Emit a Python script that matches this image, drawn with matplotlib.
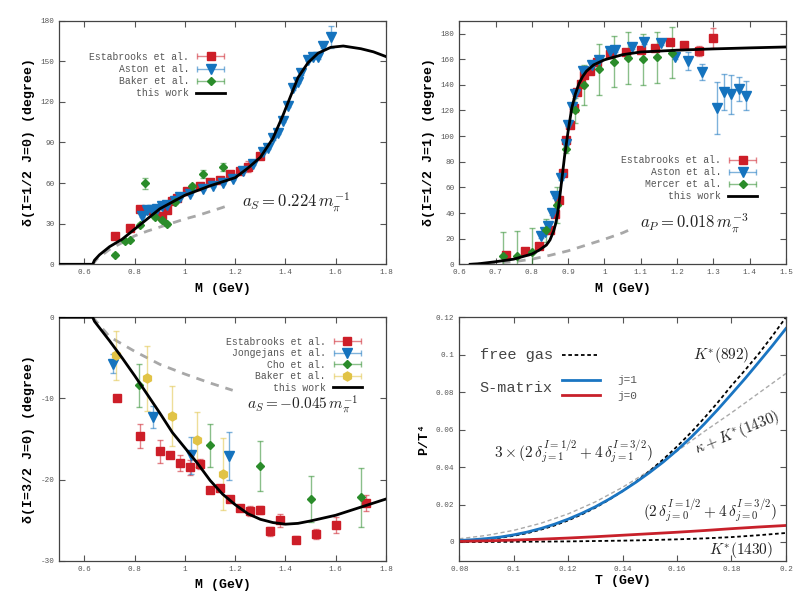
import numpy as np
import matplotlib
matplotlib.use("Agg")
import matplotlib.pyplot as plt
from matplotlib.colors import to_rgba
from matplotlib.container import ErrorbarContainer
from matplotlib.legend_handler import HandlerErrorbar

plt.rcParams['font.family'] = ['Liberation Mono', 'DejaVu Sans Mono']
plt.rcParams['mathtext.fontset'] = 'cm'

RED, BLUE, GREEN, YELLOW = '#cd1e28', '#1573be', '#2a8c2a', '#e1c346'

# ---------------- panel 1: I=1/2 J=0 ----------------
p1_est_x = [0.72, 0.78, 0.82, 0.85, 0.88, 0.91, 0.93, 0.95, 0.97, 1.01, 1.06, 1.10, 1.14, 1.18, 1.22, 1.25, 1.30]
p1_est_y = [21, 27, 41, 40, 39, 36, 40, 47, 49, 54, 58, 61, 62, 67, 69, 72, 80]
p1_est_e = [1, 1, 1.5, 1.5, 1.5, 1.5, 1.5, 1.5, 1.5, 1.5, 1.5, 1.5, 1.5, 1.5, 2, 4, 2]
p1_ast_x = [0.83, 0.85, 0.87, 0.89, 0.91, 0.93, 0.96, 0.98, 1.02, 1.07, 1.11, 1.15, 1.19, 1.23, 1.27,
            1.31, 1.33, 1.35, 1.37, 1.39, 1.41, 1.43, 1.45, 1.46, 1.49, 1.51, 1.53, 1.55, 1.58]
p1_ast_y = [36, 40, 40, 41, 43, 44, 47, 50, 52, 56, 58, 60, 63, 69, 74,
            83, 86, 93, 97, 106, 117, 130, 135, 141, 151, 153, 153, 161, 168]
p1_ast_e = [1] * 28 + [8]
p1_bak_x = [0.72, 0.76, 0.78, 0.82, 0.84, 0.88, 0.91, 0.93, 0.96, 1.03, 1.07, 1.15]
p1_bak_y = [7, 17, 18, 29, 60, 35, 33, 30, 46, 58, 67, 72]
p1_bak_e = [1, 1, 1, 1.5, 4, 1.5, 1.5, 1.5, 1.5, 1.5, 3, 3]
p1_fit_x = [0.5, 0.633, 0.64, 0.66, 0.70, 0.75, 0.80, 0.85, 0.90, 0.95, 1.00, 1.05, 1.10, 1.15, 1.20,
            1.25, 1.30, 1.35, 1.39, 1.42, 1.45, 1.49, 1.53, 1.58, 1.63, 1.70, 1.75, 1.80]
p1_fit_y = [0, 0, 3, 7, 13, 18.5, 26, 33.5, 41, 46, 51, 54.5, 58, 61, 64,
            71, 79, 93, 110, 124, 138, 149, 156, 160.3, 161.3, 159.3, 157, 153.5]
p1_sl_x = [0.633, 0.65, 0.70, 0.75, 0.80, 0.85, 0.90, 0.95, 1.00, 1.05, 1.10, 1.15, 1.18]
p1_sl_y = [0, 4, 11, 16, 21, 24.5, 27.5, 30.5, 33.5, 36, 39, 42, 44]

# ---------------- panel 2: I=1/2 J=1 ----------------
p2_est_x = [0.73, 0.78, 0.82, 0.85, 0.865, 0.875, 0.885, 0.895, 0.905, 0.915, 0.925, 0.935, 0.945,
            0.96, 0.98, 1.015, 1.06, 1.10, 1.14, 1.18, 1.22, 1.26, 1.30]
p2_est_y = [7, 10.5, 14, 27, 39.5, 50, 71, 97, 108.5, 122, 134.5, 141, 148,
            151, 158, 164, 165.5, 167.5, 169, 173.5, 171, 166.5, 176.5]
p2_est_e = [1.5] * 19 + [2, 2, 4, 8]
p2_ast_x = [0.825, 0.835, 0.845, 0.855, 0.865, 0.88, 0.895, 0.90, 0.91, 0.92, 0.94, 0.965, 0.985,
            1.015, 1.03, 1.075, 1.11, 1.155, 1.195, 1.23, 1.27, 1.31, 1.33, 1.35, 1.37, 1.39]
p2_ast_y = [22, 25, 30, 40, 53, 67, 94, 109, 123, 133, 151, 155.5, 159,
            166.5, 167, 169.5, 173.5, 172.5, 162, 158.5, 150, 122, 134.5, 132.5, 136.5, 131.5]
p2_ast_e = [1.5] * 19 + [7, 6, 20.5, 14.3, 15, 9.2, 11.3]
p2_mer_x = [0.72, 0.76, 0.80, 0.84, 0.87, 0.895, 0.92, 0.945, 0.985, 1.025, 1.065, 1.105, 1.145, 1.185]
p2_mer_y = [6.5, 6.5, 9.5, 26.5, 46, 90, 120, 140, 152, 158, 161, 160, 161.5, 165]
p2_mer_e = [19, 19.5, 19, 9, 14, 3, 10, 15.5, 20, 20, 20, 20, 20, 20]
p2_fit_x = [0.63, 0.65, 0.70, 0.75, 0.80, 0.82, 0.84, 0.85, 0.86, 0.865, 0.87, 0.875, 0.88, 0.885,
            0.89, 0.895, 0.90, 0.905, 0.91, 0.92, 0.93, 0.94, 0.95, 0.97, 1.00, 1.05, 1.10, 1.20,
            1.30, 1.40, 1.50]
p2_fit_y = [0, 0.3, 2, 4, 8, 11, 15, 19, 26, 31, 38, 48, 60, 72,
            84, 94, 104, 113, 122, 133, 141, 146.5, 150.5, 155.5, 159.5, 163.5, 165.6, 167,
            168, 168.8, 169.5]
p2_sl_x = [0.634, 0.70, 0.75, 0.80, 0.85, 0.90, 0.95, 1.00, 1.05, 1.07]
p2_sl_y = [0, 1, 2, 4, 7, 10.5, 15, 19.5, 24.5, 27]

# ---------------- panel 3: I=3/2 J=0 ----------------
p3_est_x = [0.73, 0.82, 0.90, 0.94, 0.98, 1.02, 1.06, 1.10, 1.14, 1.18, 1.22, 1.26, 1.30, 1.34,
            1.38, 1.44, 1.52, 1.60, 1.72]
p3_est_y = [-10.0, -14.6, -16.5, -17.0, -18.0, -18.5, -18.1, -21.3, -21.1, -22.4, -23.5, -23.9,
            -23.8, -26.4, -25.0, -27.4, -26.7, -25.6, -22.9]
p3_est_e = [0.3, 1.5, 1.4, 0.4, 1.0, 0.9, 0.6, 0.3, 0.3, 0.3, 0.4, 0.6, 0.5, 0.5, 0.8, 0.4, 0.6, 1.0, 1.0]
p3_jon_x = [0.715, 0.874, 1.024, 1.175]
p3_jon_y = [-5.7, -12.3, -17.0, -17.1]
p3_jon_e = [1.2, 1.4, 2.3, 3.0]
p3_cho_x = [0.817, 1.10, 1.30, 1.50, 1.70]
p3_cho_y = [-8.4, -15.8, -18.3, -22.4, -22.2]
p3_cho_e = [2.7, 2.7, 3.1, 2.8, 3.6]
p3_bak_x = [0.724, 0.85, 0.95, 1.049, 1.15]
p3_bak_y = [-4.7, -7.5, -12.2, -15.1, -19.3]
p3_bak_e = [3.0, 4.0, 3.7, 3.4, 4.4]
p3_fit_x = [0.5, 0.633, 0.64, 0.66, 0.70, 0.75, 0.80, 0.85, 0.90, 0.95, 1.00, 1.05, 1.10, 1.15,
            1.20, 1.25, 1.30, 1.35, 1.40, 1.45, 1.50, 1.60, 1.70, 1.80]
p3_fit_y = [0, 0, -0.5, -1.3, -2.9, -5.0, -7.2, -9.5, -11.8, -14.2, -16.1, -18.0, -20.1, -21.8,
            -23.1, -24.2, -24.9, -25.3, -25.5, -25.4, -25.1, -24.4, -23.4, -22.4]
p3_sl_x = [0.633, 0.70, 0.80, 0.90, 1.00, 1.10, 1.19]
p3_sl_y = [0, -2.4, -4.2, -5.8, -7.0, -8.1, -9.0]

# ---------------- panel 4: pressure ----------------
T_fine = [0.080, 0.085, 0.090, 0.095, 0.100, 0.105, 0.110, 0.115, 0.120, 0.125, 0.130, 0.135, 0.140,
          0.145, 0.150, 0.155, 0.160, 0.165, 0.170, 0.175, 0.180, 0.185, 0.190, 0.195, 0.200]
smat_j1 = [0.0008, 0.0012, 0.0018, 0.0026, 0.0038, 0.0053, 0.0072, 0.0095, 0.0122, 0.0153, 0.0188,
           0.0228, 0.0272, 0.0320, 0.0372, 0.0428, 0.0490, 0.0557, 0.0630, 0.0708, 0.0790, 0.0873,
           0.0960, 0.1048, 0.1140]
free_892 = [0.0005, 0.0008, 0.0014, 0.0022, 0.0033, 0.0047, 0.0066, 0.0088, 0.0115, 0.0147, 0.0183,
            0.0225, 0.0272, 0.0323, 0.0380, 0.0442, 0.0510, 0.0583, 0.0662, 0.0746, 0.0835, 0.0918,
            0.1005, 0.1100, 0.1200]
T_coarse = [0.08, 0.09, 0.10, 0.11, 0.12, 0.13, 0.14, 0.15, 0.16, 0.17, 0.18, 0.19, 0.20]
kappa_1430 = [0.0017, 0.0035, 0.0062, 0.0100, 0.0150, 0.0214, 0.0292, 0.0382, 0.0485, 0.0590,
              0.0690, 0.0795, 0.0900]
smat_j0 = [0.0003, 0.0006, 0.0010, 0.0015, 0.0021, 0.0028, 0.0036, 0.0044, 0.0052, 0.0061,
           0.0071, 0.0080, 0.0088]
free_1430 = [0.0, 0.0, 0.0001, 0.0002, 0.0003, 0.0005, 0.0007, 0.0010, 0.0014, 0.0019, 0.0026,
             0.0036, 0.0048]


def style_axes(ax, xt, xl, yt, yl):
    ax.set_xticks(xt)
    ax.set_xticklabels(xl)
    ax.set_yticks(yt)
    ax.set_yticklabels(yl)
    ax.tick_params(direction='in', top=True, right=True, length=4, width=0.8,
                   color='#555555', labelcolor='#555555', labelsize=5.5)
    for s in ax.spines.values():
        s.set_color('#444444')
        s.set_linewidth(0.9)


def data(ax, x, y, e, marker, color, ms):
    ec = to_rgba(color, 0.55)
    ax.errorbar(x, y, yerr=e, fmt=marker, color=color, ms=ms, ecolor=ec, elinewidth=1,
                capsize=2, capthick=1, zorder=3)
    # proxy with a horizontal bar for the legend, gnuplot style
    return ax.errorbar([np.nan], [np.nan], xerr=[1], fmt=marker, color=color, ms=ms,
                       ecolor=ec, elinewidth=1, capsize=2, capthick=1)


def fit_lines(ax, fx, fy, sx, sy):
    ax.plot(sx, sy, color='#a8a8a8', lw=2, dashes=(3, 2.5), zorder=2)
    return ax.plot(fx, fy, color='black', lw=2, zorder=4)[0]


def legend(ax, handles, labels, anchor, spacing=0.22):
    ax.legend(handles, labels, loc='upper right', bbox_to_anchor=anchor, frameon=False,
              fontsize=7, labelcolor='#555555', markerfirst=False, handlelength=3.0,
              handletextpad=0.7, labelspacing=spacing, borderpad=0, numpoints=1,
              handler_map={ErrorbarContainer: HandlerErrorbar(xerr_size=1.4)})


fig = plt.figure(figsize=(8.1, 6.07), dpi=100)
ax1 = fig.add_axes([0.0732, 0.5646, 0.4033, 0.4013])
ax2 = fig.add_axes([0.567, 0.5646, 0.4033, 0.4013])
ax3 = fig.add_axes([0.0732, 0.0763, 0.4033, 0.401])
ax4 = fig.add_axes([0.567, 0.0763, 0.4033, 0.401])

mx_t = [0.6, 0.8, 1.0, 1.2, 1.4, 1.6, 1.8]
mx_l = ['0.6', '0.8', '1', '1.2', '1.4', '1.6', '1.8']

# panel 1
h1 = data(ax1, p1_est_x, p1_est_y, p1_est_e, 's', RED, 6)
h2 = data(ax1, p1_ast_x, p1_ast_y, p1_ast_e, 'v', BLUE, 6.5)
h3 = data(ax1, p1_bak_x, p1_bak_y, p1_bak_e, 'D', GREEN, 4.5)
hf = fit_lines(ax1, p1_fit_x, p1_fit_y, p1_sl_x, p1_sl_y)
ax1.set_xlim(0.5, 1.8)
ax1.set_ylim(0, 180)
style_axes(ax1, mx_t, mx_l, [0, 30, 60, 90, 120, 150, 180],
           ['0', '30', '60', '90', '120', '150', '180'])
legend(ax1, [h1, h2, h3, hf], ['Estabrooks et al.', 'Aston et al.', 'Baker et al.', 'this work'],
       (0.5225, 0.892))
ax1.text(1.227, 45.3, r'$a_S = 0.224\,m_\pi^{-1}$', fontsize=12, color='#222222', va='center')
ax1.set_xlabel('M (GeV)', fontsize=9.5, fontweight='bold', labelpad=5)
ax1.set_ylabel('δ(I=1/2 J=0) (degree)', fontsize=9.5, fontweight='bold')

# panel 2
h1 = data(ax2, p2_est_x, p2_est_y, p2_est_e, 's', RED, 6)
h2 = data(ax2, p2_ast_x, p2_ast_y, p2_ast_e, 'v', BLUE, 6.5)
h3 = data(ax2, p2_mer_x, p2_mer_y, p2_mer_e, 'D', GREEN, 4.5)
hf = fit_lines(ax2, p2_fit_x, p2_fit_y, p2_sl_x, p2_sl_y)
ax2.set_xlim(0.6, 1.5)
ax2.set_ylim(0, 190)
style_axes(ax2, [0.6, 0.7, 0.8, 0.9, 1.0, 1.1, 1.2, 1.3, 1.4, 1.5],
           ['0.6', '0.7', '0.8', '0.9', '1', '1.1', '1.2', '1.3', '1.4', '1.5'],
           [0, 20, 40, 60, 80, 100, 120, 140, 160, 180],
           ['0', '20', '40', '60', '80', '100', '120', '140', '160', '180'])
legend(ax2, [h1, h2, h3, hf], ['Estabrooks et al.', 'Aston et al.', 'Mercer et al.', 'this work'],
       (0.9266, 0.469))
ax2.text(1.098, 32.2, r'$a_P = 0.018\,m_\pi^{-3}$', fontsize=12, color='#222222', va='center')
ax2.set_xlabel('M (GeV)', fontsize=9.5, fontweight='bold', labelpad=5)
ax2.set_ylabel('δ(I=1/2 J=1) (degree)', fontsize=9.5, fontweight='bold')

# panel 3
h1 = data(ax3, p3_est_x, p3_est_y, p3_est_e, 's', RED, 6)
h2 = data(ax3, p3_jon_x, p3_jon_y, p3_jon_e, 'v', BLUE, 6.5)
h3 = data(ax3, p3_cho_x, p3_cho_y, p3_cho_e, 'D', GREEN, 4.5)
h4 = data(ax3, p3_bak_x, p3_bak_y, p3_bak_e, 'h', YELLOW, 6.5)
hf = fit_lines(ax3, p3_fit_x, p3_fit_y, p3_sl_x, p3_sl_y)
ax3.set_xlim(0.5, 1.8)
ax3.set_ylim(-30, 0)
style_axes(ax3, mx_t, mx_l, [-30, -20, -10, 0], ['-30', '-20', '-10', '0'])
legend(ax3, [h1, h2, h3, h4, hf],
       ['Estabrooks et al.', 'Jongejans et al.', 'Cho et al.', 'Baker et al.', 'this work'],
       (0.941, 0.94), spacing=0.15)
ax3.text(1.247, -10.8, r'$a_S = -0.045\,m_\pi^{-1}$', fontsize=11, color='#222222', va='center')
ax3.set_xlabel('M (GeV)', fontsize=9.5, fontweight='bold', labelpad=5)
ax3.set_ylabel('δ(I=3/2 J=0) (degree)', fontsize=9.5, fontweight='bold')

# panel 4
ax4.plot(T_coarse, kappa_1430, color='#aaaaaa', lw=1, dashes=(3, 2))
ax4.plot(T_fine, free_892, color='black', lw=1.3, dashes=(2, 1.5))
ax4.plot(T_coarse, free_1430, color='black', lw=1.3, dashes=(2, 1.5))
ax4.plot(T_fine, smat_j1, color='#1a75c2', lw=2)
ax4.plot(T_coarse, smat_j0, color='#c8202a', lw=2)
ax4.set_xlim(0.08, 0.2)
ax4.set_ylim(-0.01, 0.12)
style_axes(ax4, [0.08, 0.1, 0.12, 0.14, 0.16, 0.18, 0.2],
           ['0.08', '0.1', '0.12', '0.14', '0.16', '0.18', '0.2'],
           [0, 0.02, 0.04, 0.06, 0.08, 0.1, 0.12],
           ['0', '0.02', '0.04', '0.06', '0.08', '0.1', '0.12'])
tr = ax4.transAxes
ax4.text(0.063, 0.845, 'free gas', transform=tr, fontsize=11, color='#444444', va='center')
ax4.plot([0.315, 0.422], [0.845, 0.845], transform=tr, color='black', lw=1.3, dashes=(2, 1.5))
ax4.text(0.063, 0.71, 'S-matrix', transform=tr, fontsize=11, color='#444444', va='center')
ax4.plot([0.315, 0.431], [0.744, 0.744], transform=tr, color='#1a75c2', lw=2)
ax4.plot([0.315, 0.431], [0.68, 0.68], transform=tr, color='#c8202a', lw=2)
ax4.text(0.483, 0.744, 'j=1', transform=tr, fontsize=8, color='#555555', va='center')
ax4.text(0.483, 0.678, 'j=0', transform=tr, fontsize=8, color='#555555', va='center')
ax4.text(0.715, 0.844, r'$K^{*}(892)$', transform=tr, fontsize=11, color='#222222', va='center')
ax4.text(0.851, 0.526, r'$\kappa + K^{*}(1430)$', transform=tr, fontsize=11, color='#222222',
         ha='center', va='center', rotation=22)
ax4.text(0.351, 0.447, r'$3\times(2\,\delta^{I=1/2}_{j=1}+4\,\delta^{I=3/2}_{j=1})$', transform=tr,
         fontsize=11, color='#222222', ha='center', va='center')
ax4.text(0.767, 0.207, r'$(2\,\delta^{I=1/2}_{j=0}+4\,\delta^{I=3/2}_{j=0})$', transform=tr,
         fontsize=11, color='#222222', ha='center', va='center')
ax4.text(0.864, 0.043, r'$K^{*}(1430)$', transform=tr, fontsize=11, color='#222222',
         ha='center', va='center')
ax4.set_xlabel('T (GeV)', fontsize=9.5, fontweight='bold', labelpad=2)
ax4.set_ylabel('P/T⁴', fontsize=9.5, fontweight='bold')

fig.savefig('out.png', dpi=100)
